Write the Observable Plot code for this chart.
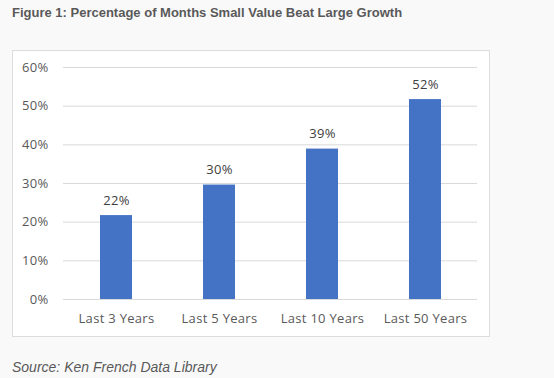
<!DOCTYPE html>
<html>
<head>
<meta charset="utf-8">
<script src="https://cdn.jsdelivr.net/npm/d3@7"></script>
<script src="https://cdn.jsdelivr.net/npm/@observablehq/plot@0.6"></script>
<style>
  html, body { margin: 0; padding: 0; background: #f9f9f9; width: 554px; height: 378px; overflow: hidden; }
  #title { position: absolute; left: 12px; top: 5px; font: bold 13px Arial, "Liberation Sans", sans-serif; color: #595959; white-space: nowrap; }
  #box { position: absolute; left: 12px; top: 50px; width: 476px; height: 285px; background: #fff; border: 1px solid #dcdcdc; }
  #caption { position: absolute; left: 12px; top: 359px; font: italic 14px Arial, "Liberation Sans", sans-serif; color: #595959; white-space: nowrap; }
  svg text { letter-spacing: 0.3px; }
</style>
</head>
<body>
<div id="title">Figure 1: Percentage of Months Small Value Beat Large Growth</div>
<div id="box"></div>
<div id="caption">Source: Ken French Data Library</div>
<script>
const categories = ["Last 3 Years", "Last 5 Years", "Last 10 Years", "Last 50 Years"];
const values = [0.217, 0.296, 0.389, 0.517];
const valueLabels = ["22%", "30%", "39%", "52%"];
const yTicks = [0, 0.1, 0.2, 0.3, 0.4, 0.5, 0.6];

const data = categories.map((c, i) => ({category: c, value: values[i], label: valueLabels[i]}));

const chart = Plot.plot({
  width: 476,
  height: 285,
  marginLeft: 50,
  marginRight: 12,
  marginTop: 16,
  marginBottom: 37,
  style: {background: "transparent", fontFamily: "'Open Sans', sans-serif", fontSize: "13px", color: "#595959"},
  x: {domain: categories, paddingInner: 0.69, paddingOuter: 0.345, label: null},
  y: {domain: [0, 0.6], label: null},
  marks: [
    Plot.ruleY(yTicks, {stroke: "#d9d9d9", strokeWidth: 1}),
    Plot.barY(data, {x: "category", y: "value", fill: "#4472c4"}),
    Plot.text(data, {x: "category", y: "value", text: "label", dy: -15, fill: "#404040", fontSize: 13}),
    Plot.axisX({tickSize: 0, tickPadding: 14, fill: "#595959", fontSize: 13}),
    Plot.axisY({ticks: yTicks, tickFormat: d3.format(".0%"), tickSize: 0, tickPadding: 15, fill: "#595959", fontSize: 13})
  ]
});
chart.style.position = "absolute";
chart.style.left = "13px";
chart.style.top = "51px";
document.body.appendChild(chart);
</script>
</body>
</html>
